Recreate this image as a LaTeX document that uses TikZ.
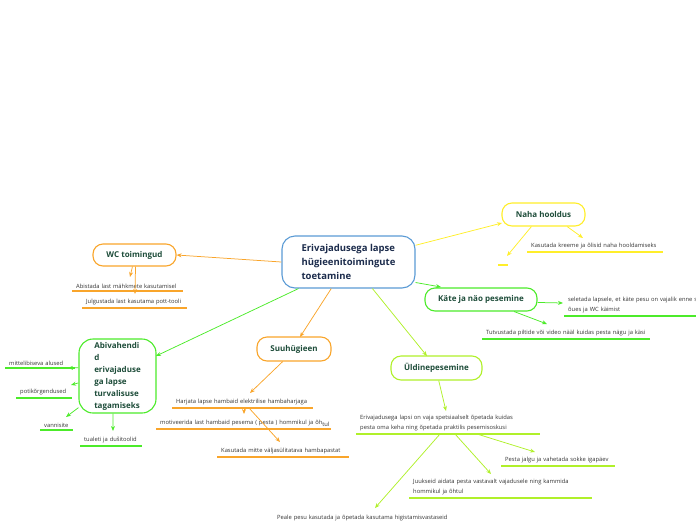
\documentclass[tikz,border=0pt]{standalone}
\usepackage{fontspec}
\setmainfont{Open Sans}
\usetikzlibrary{arrows.meta}
\definecolor{corange}{HTML}{F9A52B}
\definecolor{cgreen}{HTML}{4CEB2A}
\definecolor{cyellow}{HTML}{FFEE2A}
\definecolor{cygreen}{HTML}{B0F02A}
\definecolor{cblue}{HTML}{5B9BD5}
\definecolor{ctitle}{HTML}{1C2C4C}
\definecolor{cnode}{HTML}{1E4D3A}
\definecolor{cleaf}{HTML}{333333}
\newcommand\leafnode[6]{%
  \node[leaf, text width=\dimexpr#5pt-8pt\relax] (#1) at (#3,#4) {#6};
  \draw[uline, #2] (#1.south west) -- (#1.south east);}
\begin{document}
\begin{tikzpicture}[x=1pt,y=-1pt,
  topic/.style={draw, line width=1.1pt, rounded corners=10pt, fill=white,
    font=\fontsize{8}{10}\selectfont\bfseries, text=cnode, inner sep=0pt},
  leaf/.style={anchor=south west, inner xsep=4pt, inner ysep=2.6pt, align=left,
    font=\fontsize{5.8}{10}\selectfont, text=cleaf},
  uline/.style={line width=1.5pt},
  conn/.style={line width=0.75pt, -{Stealth[length=5pt,width=4pt]}}]
\useasboundingbox (0,0) rectangle (696,520);

% central
\node[draw=cblue, line width=1.1pt, rounded corners=13pt, fill=white,
  minimum width=133pt, minimum height=52pt, align=left, text=ctitle,
  font=\fontsize{9.5}{14}\selectfont\bfseries, inner sep=0pt]
  (C) at (348.5,262) {Erivajadusega lapse\\hügieenitoimingute\\toetamine};

% main topics
\node[topic, draw=cyellow, minimum width=83pt, minimum height=23pt] (N) at (543.5,214.5) {Naha hooldus};
\node[topic, draw=cgreen, minimum width=112pt, minimum height=23pt] (K) at (481,299.5) {Käte ja näo pesemine};
\node[topic, draw=corange, minimum width=83pt, minimum height=22pt] (W) at (134.5,255) {WC toimingud};
\node[topic, draw=cgreen, minimum width=77pt, minimum height=74pt, rounded corners=14pt,
  align=left, font=\fontsize{8}{12}\selectfont\bfseries] (A) at (117.5,376)
  {Abivahendi\\d\\erivajaduse\\ga lapse\\turvalisuse\\tagamiseks};
\node[topic, draw=corange, minimum width=74pt, minimum height=24pt] (S) at (294,349) {Suuhügieen};
\node[topic, draw=cygreen, minimum width=91pt, minimum height=24pt] (U) at (436.5,368) {Üldinepesemine};

% leaves
\leafnode{n1}{cyellow}{527}{252}{136}{Kasutada kreeme ja õlisid naha hooldamiseks}
\leafnode{n2}{cyellow}{498}{265}{10}{}
\leafnode{k1}{cgreen}{564}{316}{160}{seletada lapsele, et käte pesu on vajalik enne s\\õues ja WC käimist}
\leafnode{k2}{cgreen}{482}{339}{168}{Tutvustada piltide või video nääl kuidas pesta nägu ja käsi}
\leafnode{w1}{corange}{72}{291}{111}{Abistada last mähkmete kasutamisel}
\leafnode{w2}{corange}{82}{308}{105}{Julgustada last kasutama pott-tooli}
\leafnode{a1}{cgreen}{5}{368}{70}{mittelibiseva alused}
\leafnode{a2}{cgreen}{16}{398}{56}{potikõrgendused}
\leafnode{a3}{cgreen}{40}{430}{33}{vannisite}
\leafnode{a4}{cgreen}{80}{446}{62}{tualeti ja dušitoolid}
\leafnode{s1}{corange}{172}{408}{141}{Harjata lapse hambaid elektrilise hambaharjaga}
\leafnode{s2}{corange}{156}{429}{175}{\mbox{motiveerida last hambaid pesema ( pesta ) hommikul ja õh\raisebox{-1.3pt}{tul}}}
\leafnode{s3}{corange}{217}{457}{132}{Kasutada mitte väljasülitatava hambapastat}
\leafnode{u1}{cygreen}{356}{434}{184}{Erivajadusega lapsi on vaja spetsiaalselt õpetada kuidas\\pesta oma keha ning õpetada praktilis pesemisoskusi}
\leafnode{u2}{cygreen}{501}{466}{114}{Pesta jalgu ja vahetada sokke igapäev}
\leafnode{u3}{cygreen}{409}{498}{183}{Juukseid aidata pesta vastavalt vajadusele ning kammida\\hommikul ja õhtul}
\leafnode{u4}{cygreen}{273}{524}{200}{Peale pesu kasutada ja õpetada kasutama higistamisvastaseid}

% tip coordinates
\coordinate (tN) at (502,223);
\coordinate (tK) at (441,287);
\coordinate (tA) at (156,356);
\coordinate (tS) at (300,337);
\coordinate (tU) at (427,356);
\coordinate (tn1) at (583,238);
\coordinate (tn2) at (507,256);
\coordinate (tk1) at (563,303);
\coordinate (tk2) at (547,324);
\coordinate (tw1) at (130,277);
\coordinate (tw2) at (135,294);
\coordinate (ta1) at (68,368);
\coordinate (ta2) at (71,385);
\coordinate (ta3) at (66,417);
\coordinate (ta4) at (113,431);
\coordinate (ts1) at (250,393);
\coordinate (ts2) at (244,414);
\coordinate (ts3) at (280,442);
\coordinate (tu1) at (446,411);
\coordinate (tu2) at (535,452);
\coordinate (tu3) at (491,474);
\coordinate (tu4) at (375,508);
\coordinate (bs3) at (249,0);
\coordinate (bu2) at (477,0);
\coordinate (bu3) at (455,0);
\coordinate (bu4) at (440,0);

% connectors
\draw[conn, corange] (C.west) -- (W.east);
\draw[conn, cyellow] (C.14) -- (tN);
\draw[conn, cgreen] (C.-17) -- (tK);
\draw[conn, cgreen] (C.208) -- (tA);
\draw[conn, corange] (C.237) -- (tS);
\draw[conn, cygreen] (C.-48) -- (tU);

\draw[conn, cyellow] (N.-27) -- (tn1);
\draw[conn, cyellow] (N.-135) -- (tn2);
\draw[conn, cgreen] (K.-3) -- (tk1);
\draw[conn, cgreen] (K.-20) -- (tk2);
\draw[conn, corange] (W.-100) -- (tw1);
\draw[conn, corange] (W.-85) -- (tw2);
\draw[conn, cgreen] (A.168) -- (ta1);
\draw[conn, cgreen] (A.190) -- (ta2);
\draw[conn, cgreen] (A.219) -- (ta3);
\draw[conn, cgreen] (A.-97) -- (ta4);
\draw[conn, corange] (S.-132) -- (ts1);
\draw[conn, corange] (s1.south -| ts2) -- (ts2);
\draw[conn, corange] (s1.south -| bs3) -- (ts3);
\draw[conn, cygreen] (U.-80) -- (tu1);
\draw[conn, cygreen] (u1.south -| bu2) -- (tu2);
\draw[conn, cygreen] (u1.south -| bu3) -- (tu3);
\draw[conn, cygreen] (u1.south -| bu4) -- (tu4);
\end{tikzpicture}
\end{document}
